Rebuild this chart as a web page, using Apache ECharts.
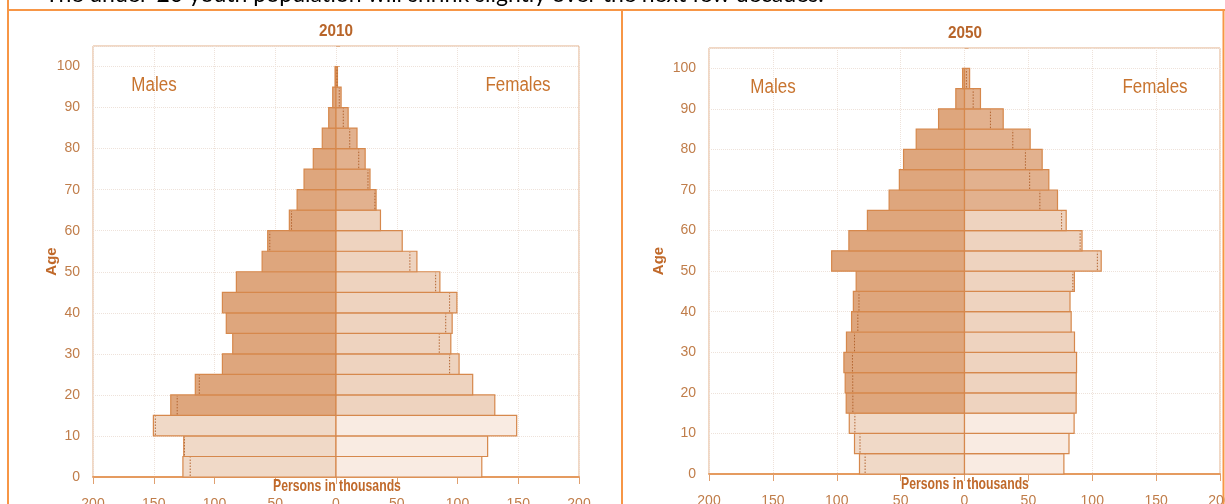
<!DOCTYPE html>
<html><head><meta charset="utf-8">
<script src="https://cdn.jsdelivr.net/npm/echarts@6/dist/echarts.min.js"></script>
<style>html,body{margin:0;padding:0;background:#fff;}#c{width:1225px;height:504px;}</style>
</head><body><div id="c"></div>
<script>
// Age groups (start of each 5-year band)
const ages = [0,5,10,15,20,25,30,35,40,45,50,55,60,65,70,75,80,85,90,95];
// Persons in thousands
const male2010   = [126,125.3,150.3,136,115.8,93.5,85,90.3,93.5,82,60.8,56.2,38.4,32,26.3,18.7,11.3,6,2.7,0.8];
const female2010 = [120,124.8,148.7,130.7,112.5,101.3,94.5,95.6,99.5,85.5,66.6,54.5,36.6,33,28,24,17.3,10,4.2,1.2];
const male2050   = [82.2,86.1,90.2,92.6,93.4,94.4,92.4,88.4,87,84.8,104,90.5,76,59,51,47.7,37.8,20.3,6.8,1.5];
const female2050 = [77.8,81.8,85.8,87.4,87.5,87.7,86.1,83.5,82.6,86,107,92,79.6,72.8,66,60.8,51.4,30.3,12.5,4];
const yearTitles = ['2010','2050'];

const ORANGE = '#c0692a';
const LABEL = '#c07d4a';
const FONT = '"Liberation Sans",Arial,sans-serif';

function barColor(sex, age){
  if (sex === 0) return age >= 15 ? '#dea67d' : '#f0d9c7';
  if (age >= 65) return '#e2b18e';
  if (age >= 15) return '#eed3bf';
  return '#f9ebe2';
}

function barData(m, f){
  const d = [];
  ages.forEach((a,i)=>{ d.push([a, -m[i], 0]); d.push([a, f[i], 1]); });
  return d;
}
function dotData(m, f){
  return ages.map((a,i)=> f[i] >= m[i] ? [a, m[i]] : [a, -f[i]]);
}

const renderBar = (params, api) => {
  const a = api.value(0), v = api.value(1), s = api.value(2);
  const p0 = api.coord([0, a]), p1 = api.coord([v, a + 5]);
  return {type:'rect', shape:{x:Math.min(p0[0],p1[0]), y:p1[1], width:Math.abs(p1[0]-p0[0]), height:p0[1]-p1[1]},
    style:{fill:barColor(s, a), stroke:'#d6884c', lineWidth:1.2}};
};
const renderDot = (params, api) => {
  const a = api.value(0), v = api.value(1);
  const p0 = api.coord([v, a]), p1 = api.coord([v, a + 5]);
  return {type:'line', shape:{x1:p0[0], y1:p0[1]-1, x2:p1[0], y2:p1[1]+1},
    style:{stroke:'#b0602a', lineWidth:1, lineDash:[1.5,1.5], opacity:0.95}};
};

const grids = [
  {left:93, top:46, width:486, height:431, show:true, borderColor:'#e3b08a', borderWidth:1, containLabel:false, outerBoundsMode:'none'},
  {left:709, top:48, width:511, height:426, show:true, borderColor:'#e3b08a', borderWidth:1, containLabel:false, outerBoundsMode:'none'}
];
const nameGaps = [34, 43];

const xAxes = [0,1].map(i=>({
  gridIndex:i, type:'value', min:-200, max:200, interval:50,
  axisLine:{show:true, onZero:false, lineStyle:{color:'#e59b60', width:1.8}},
  axisTick:{show:true, length:7, lineStyle:{color:'#e0a070'}},
  axisLabel:{color:LABEL, fontSize:14, fontFamily:FONT, margin:20, formatter:v=>String(Math.abs(v))},
  splitLine:{show:true, lineStyle:{color:'#eee2da', type:'dotted'}}
}));
const yAxes = [0,1].map(i=>({
  gridIndex:i, type:'value', min:0, max:105, interval:10,
  axisLine:{show:false},
  axisTick:{show:true, inside:true, length:4, lineStyle:{color:'#e0b08a'}},
  axisLabel:{color:LABEL, fontSize:14, fontFamily:FONT, margin:13, formatter:v=> v % 10 === 0 ? String(v) : ''},
  splitLine:{show:true, lineStyle:{color:'#eee2da', type:'dotted'}},
  name:'Age', nameLocation:'middle', nameGap:nameGaps[i], nameRotate:90, nameMoveOverlap:false,
  nameTextStyle:{color:ORANGE, fontWeight:'bold', fontSize:15, fontFamily:FONT}
}));

const series = [
  {type:'custom', xAxisIndex:0, yAxisIndex:0, renderItem:renderBar, data:barData(male2010, female2010), z:2},
  {type:'custom', xAxisIndex:0, yAxisIndex:0, renderItem:renderDot, data:dotData(male2010, female2010), z:3},
  {type:'custom', xAxisIndex:1, yAxisIndex:1, renderItem:renderBar, data:barData(male2050, female2050), z:2},
  {type:'custom', xAxisIndex:1, yAxisIndex:1, renderItem:renderDot, data:dotData(male2050, female2050), z:3}
];

const frame = '#f79646';
const txt = (x,y,t,size,color,bold,sx)=>({type:'text', x, y, scaleX:sx||1, silent:true, z:10,
  style:{text:t, fill:color, fontSize:size, fontWeight:bold?'bold':'normal', fontFamily:FONT, align:'center', verticalAlign:'middle'}});

const graphic = [
  {type:'text', x:45, y:-5, style:{text:'The under-20 youth population will shrink slightly over the next few decades.', fill:'#000', fontSize:23, fontFamily:'Lato,"Open Sans",sans-serif', verticalAlign:'middle'}},
  {type:'line', shape:{x1:8, y1:10, x2:1225, y2:10}, style:{stroke:frame, lineWidth:2}},
  {type:'line', shape:{x1:8, y1:0, x2:8, y2:504}, style:{stroke:frame, lineWidth:2}},
  {type:'line', shape:{x1:622, y1:10, x2:622, y2:504}, style:{stroke:frame, lineWidth:2}},
  {type:'line', shape:{x1:1223.5, y1:10, x2:1223.5, y2:504}, style:{stroke:frame, lineWidth:2}},
  txt(336, 31, yearTitles[0], 17, '#b8652a', true, 0.9),
  txt(965, 33, yearTitles[1], 17, '#b8652a', true, 0.9),
  txt(154, 85, 'Males', 20, '#c8742f', false, 0.85),
  txt(518, 85, 'Females', 20, '#c8742f', false, 0.85),
  txt(773, 87, 'Males', 20, '#c8742f', false, 0.85),
  txt(1155, 87, 'Females', 20, '#c8742f', false, 0.85),
  txt(337, 486, 'Persons in thousands', 17, ORANGE, true, 0.72),
  txt(965, 484, 'Persons in thousands', 17, ORANGE, true, 0.72)
];

const chart = echarts.init(document.getElementById('c'), null, {renderer:'canvas'});
chart.setOption({animation:false, grid:grids, xAxis:xAxes, yAxis:yAxes, series, graphic});
</script></body></html>
